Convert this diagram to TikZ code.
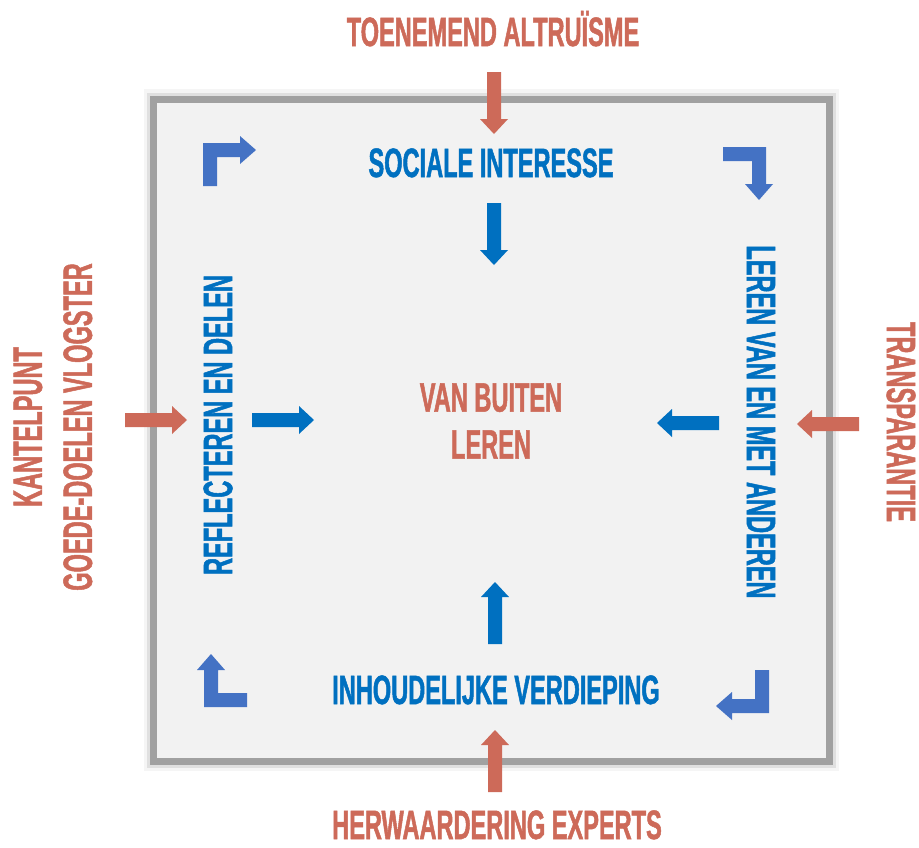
\documentclass[tikz,border=0pt]{standalone}
\usepackage{fontspec}
\newfontfamily\bebas[FakeStretch=0.575, FakeBold=1.2]{Liberation Sans Bold}
\definecolor{tred}{RGB}{205,106,89}
\definecolor{tblue}{RGB}{0,112,192}
\definecolor{cblue}{RGB}{68,114,196}

\begin{document}
\begin{tikzpicture}[x=1pt, y=-1pt,
lbl/.style={inner sep=0pt, align=center, font=\bebas\fontsize{41}{47}\selectfont},
redlbl/.style={lbl, text=tred},
bluelbl/.style={lbl, text=tblue},
pics/bigarrow/.style={code={\fill (0,-7) -- (47,-7) -- (47,-14) -- (62,0) -- (47,14) -- (47,7) -- (0,7) -- cycle;}},
pics/bentarrow/.style={code={\fill (0,0) -- (37,0) -- (37,-7) -- (53,7) -- (37,21) -- (37,14) -- (14,14) -- (14,43) -- (0,43) -- cycle;}}]

\useasboundingbox (0,0) rectangle (919,847);

% kader
\draw[line width=20pt, black!4] (153.5,99) rectangle (829,761);
\draw[line width=13pt, black!12] (153.5,99) rectangle (829,761);
\draw[line width=7pt, black!37, fill=black!5] (153.5,99) rectangle (829,761);

% teksten
\node[redlbl, anchor=base] 		(altruisme)	at (493,46)	{TOENEMEND ALTRUÏSME};
\node[bluelbl, anchor=base] 		(sociaal)	at (491,177)	{SOCIALE INTERESSE};
\node[redlbl] 				(buiten)	at (491,421)	{VAN BUITEN\\LEREN};
\node[bluelbl, anchor=base] 		(verdieping)	at (496,704)	{INHOUDELIJKE VERDIEPING};
\node[redlbl, anchor=base] 		(experts)	at (497,839)	{HERWAARDERING EXPERTS};
\node[bluelbl, rotate=90] 		(delen)		at (218,425)	{REFLECTEREN EN DELEN};
\node[bluelbl, rotate=-90] 		(anderen)	at (761,422)	{LEREN VAN EN MET ANDEREN};
\node[redlbl, rotate=-90] 		(transparant)	at (901,422)	{TRANSPARANTIE};
\node[redlbl, rotate=90, font=\bebas\fontsize{41}{50}\selectfont] (kantelpunt) at (53,427) {KANTELPUNT\\GOEDE-DOELEN VLOGSTER};

% rechte pijlen
\pic[fill=tred, rotate=-90]	at (494,72)	{bigarrow};
\pic[fill=tred]			at (125,420)	{bigarrow};
\pic[fill=tred, rotate=180]	at (859,424)	{bigarrow};
\pic[fill=tred, rotate=90]	at (495,792)	{bigarrow};
\pic[fill=tblue, rotate=-90]	at (494,203)	{bigarrow};
\pic[fill=tblue]		at (252,420)	{bigarrow};
\pic[fill=tblue, rotate=180]	at (719,423)	{bigarrow};
\pic[fill=tblue, rotate=90]	at (495,644)	{bigarrow};

% hoekpijlen
\pic[fill=cblue]		at (203,143)	{bentarrow};
\pic[fill=cblue, rotate=-90]	at (766,147)	{bentarrow};
\pic[fill=cblue, rotate=180]	at (769,713)	{bentarrow};
\pic[fill=cblue, rotate=90]	at (204,707)	{bentarrow};

\end{tikzpicture}
\end{document}
